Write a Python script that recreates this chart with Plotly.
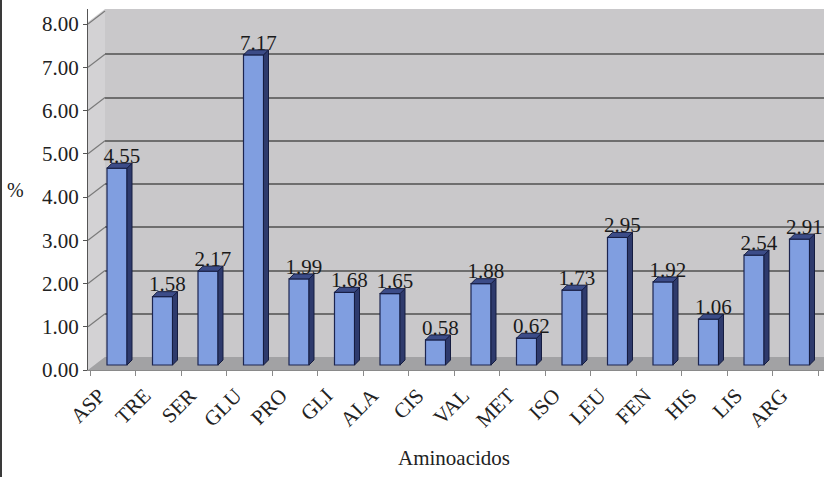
import plotly.graph_objects as go

# Amino-acid composition (%)
aminoacids = ["ASP", "TRE", "SER", "GLU", "PRO", "GLI", "ALA", "CIS",
              "VAL", "MET", "ISO", "LEU", "FEN", "HIS", "LIS", "ARG"]
percent = [4.55, 1.58, 2.17, 7.17, 1.99, 1.68, 1.65, 0.58,
           1.88, 0.62, 1.73, 2.95, 1.92, 1.06, 2.54, 2.91]
y_ticks = [0, 1, 2, 3, 4, 5, 6, 7, 8]

FONT = "'Liberation Serif', 'Times New Roman', serif"
W, H = 824, 477
L, R, T, B = 88, 0, 9, 107
PX_PER_UNIT = 43.25           # vertical scale of the value axis
SLOT = 45.5                   # horizontal width of one category slot

plot_w = W - L - R
plot_h = H - T - B
base_px = T + plot_h          # pixel row of the value-axis zero
x_lo = -0.5 - 2 / SLOT
x_hi = x_lo + plot_w / SLOT
y_top = plot_h / PX_PER_UNIT

# perspective offsets (in axis units)
wall_shift = 13 / PX_PER_UNIT    # back wall sits 13px higher than the front axis
bar_shift = 5 / PX_PER_UNIT      # bars stand mid-depth
dx = 5 / SLOT                    # bar depth (x)
dy = 5 / PX_PER_UNIT             # bar depth (y)
bar_off = -0.5 + 17 / SLOT
bar_w = 20 / SLOT
wall_x = -0.5 + 15 / SLOT

idx = list(range(len(aminoacids)))

fig = go.Figure()

# front faces
fig.add_trace(go.Bar(
    x=idx, y=percent, width=bar_w, offset=bar_off,
    marker=dict(color="#809ee0", line=dict(color="#1c2550", width=1.2)),
    xaxis="x", yaxis="y3", hoverinfo="skip", showlegend=False,
))

# side faces and top faces as parallelograms
side_x, side_y, top_x, top_y = [], [], [], []
for i, v in zip(idx, percent):
    xr = i + bar_off + bar_w
    xl = i + bar_off
    side_x += [xr, xr + dx, xr + dx, xr, xr, None]
    side_y += [0, dy, v + dy, v, 0, None]
    top_x += [xl, xl + dx, xr + dx, xr, xl, None]
    top_y += [v, v + dy, v + dy, v, v, None]

fig.add_trace(go.Scatter(
    x=side_x, y=side_y, mode="lines", fill="toself",
    fillcolor="#2e3a6c", line=dict(color="#151c40", width=1),
    xaxis="x", yaxis="y3", hoverinfo="skip", showlegend=False,
))
fig.add_trace(go.Scatter(
    x=top_x, y=top_y, mode="lines", fill="toself",
    fillcolor="#3c4c88", line=dict(color="#151c40", width=1),
    xaxis="x", yaxis="y3", hoverinfo="skip", showlegend=False,
))

# value labels
fig.add_trace(go.Scatter(
    x=[i + 0.2 for i in idx], y=percent,
    mode="text", text=[f"{v:.2f}" for v in percent],
    textposition="top center",
    textfont=dict(family=FONT, size=21, color="#1a1a1a"),
    xaxis="x", yaxis="y3", hoverinfo="skip", showlegend=False,
))

# carrier trace for the back-wall grid axis
fig.add_trace(go.Scatter(
    x=[0], y=[0], mode="markers", marker=dict(opacity=0),
    xaxis="x", yaxis="y2", hoverinfo="skip", showlegend=False,
))
# carrier trace for the main value axis
fig.add_trace(go.Scatter(
    x=[0], y=[0], mode="markers", marker=dict(opacity=0),
    xaxis="x", yaxis="y", hoverinfo="skip", showlegend=False,
))

shapes = []
# left side wall
shapes.append(dict(
    type="path", xref="x", yref="y", layer="between",
    path=(f"M {x_lo},0 L {wall_x},{wall_shift} L {wall_x},{y_top} "
          f"L {x_lo},{y_top - wall_shift} Z"),
    fillcolor="#d3d2d4", line=dict(width=0),
))
# white corner above the side wall
shapes.append(dict(
    type="path", xref="x", yref="y", layer="between",
    path=(f"M {x_lo},{y_top - wall_shift} L {wall_x},{y_top} "
          f"L {x_lo},{y_top} Z"),
    fillcolor="white", line=dict(width=0),
))
# side wall grid lines
for k in y_ticks[1:]:
    shapes.append(dict(
        type="line", xref="x", yref="y", layer="between",
        x0=x_lo, y0=k, x1=wall_x, y1=k + wall_shift,
        line=dict(color="#7a7a7a", width=1.2),
    ))
# floor
shapes.append(dict(
    type="path", xref="x", yref="y", layer="between",
    path=(f"M {x_lo},0 L {wall_x},{wall_shift} L {x_hi},{wall_shift} "
          f"L {x_hi},0 Z"),
    fillcolor="#a2a2a4", line=dict(width=0),
))
# left frame edge
shapes.append(dict(
    type="line", xref="paper", yref="paper",
    x0=(1 - L) / plot_w, x1=(1 - L) / plot_w,
    y0=-B / plot_h, y1=(plot_h + T) / plot_h,
    line=dict(color="#3a3a3a", width=2),
))

fig.update_layout(
    width=W, height=H,
    margin=dict(l=L, r=R, t=T, b=B, pad=0),
    paper_bgcolor="white",
    plot_bgcolor="#c9c8ca",
    font=dict(family=FONT, size=20, color="#222222"),
    barmode="overlay",
    shapes=shapes,
    xaxis=dict(
        range=[x_lo, x_hi],
        tickmode="array", tickvals=[i - 0.3 for i in idx], ticktext=aminoacids,
        tickangle=-45, ticks="", ticklabelstandoff=4,
        tickfont=dict(family=FONT, size=21, color="#222222"),
        minor=dict(tick0=-0.5, dtick=1, ticks="outside", ticklen=5,
                   tickcolor="#8a8a8a", showgrid=False),
        showgrid=False, zeroline=False,
        showline=True, linecolor="#8a8a8a", linewidth=1,
    ),
    yaxis=dict(
        range=[0, y_top],
        tickmode="array", tickvals=y_ticks, tickformat=".2f",
        ticks="outside", ticklen=4, tickcolor="#555555",
        showgrid=False, zeroline=False,
        showline=True, linecolor="#555555", linewidth=1,
        tickfont=dict(family=FONT, size=21, color="#222222"),
    ),
    yaxis2=dict(
        overlaying="y", range=[-wall_shift, y_top - wall_shift],
        tickmode="array", tickvals=y_ticks[1:-1],
        showticklabels=False, ticks="", showline=False, zeroline=False,
        showgrid=True, gridcolor="#6e6e6e", gridwidth=1.5,
    ),
    yaxis3=dict(
        overlaying="y", range=[-bar_shift, y_top - bar_shift],
        showticklabels=False, ticks="", showline=False, zeroline=False,
        showgrid=False,
    ),
    annotations=[
        dict(text="%", xref="paper", yref="paper",
             x=(15 - L) / plot_w, y=(base_px - 190) / plot_h,
             xanchor="center", yanchor="middle",
             showarrow=False, font=dict(family=FONT, size=20, color="#222222")),
        dict(text="Aminoacidos", xref="paper", yref="paper",
             x=(454 - L) / plot_w, y=(base_px - 458) / plot_h,
             xanchor="center", yanchor="middle",
             showarrow=False, font=dict(family=FONT, size=21, color="#222222")),
    ],
)

fig.write_html("out.html")
